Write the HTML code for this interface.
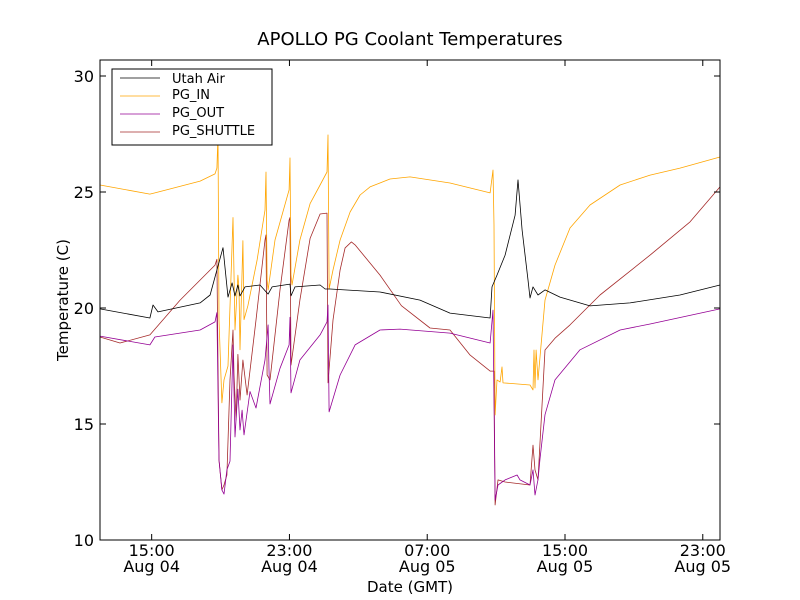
<!DOCTYPE html>
<html><head><meta charset="utf-8"><style>
body{margin:0;background:#fff;}
svg{display:block;font-family:"DejaVu Sans","Liberation Sans",sans-serif;}
</style></head><body>
<svg id="chart" width="800" height="600">
<rect width="800" height="600" fill="#fff"/>
<text x="410" y="45" text-anchor="middle" font-size="18">APOLLO PG Coolant Temperatures</text>
<g id="plot"></g>
<g id="axes"></g>
<text x="410" y="592" text-anchor="middle" font-size="15">Date (GMT)</text>
<text transform="translate(68,300) rotate(-90)" text-anchor="middle" font-size="15">Temperature (C)</text>
<g>
<rect x="112" y="69" width="160" height="76" fill="#fff" stroke="#000" stroke-width="1"/>
<line x1="120" y1="78" x2="160" y2="78" stroke="#000" stroke-width="0.8"/>
<text x="172" y="83" font-size="13">Utah Air</text>
<line x1="120" y1="96" x2="160" y2="96" stroke="#ffa500" stroke-width="0.8"/>
<text x="172" y="99" font-size="13">PG_IN</text>
<line x1="120" y1="114" x2="160" y2="114" stroke="#940094" stroke-width="0.8"/>
<text x="172" y="117" font-size="13">PG_OUT</text>
<line x1="120" y1="132" x2="160" y2="132" stroke="#a52a2a" stroke-width="0.8"/>
<text x="172" y="135" font-size="13">PG_SHUTTLE</text>
</g>
</svg>
<script>
// hours since 12:00 Aug 04
const utahT=[0,2.9,3.08,3.37,5.81,6.39,7.14,7.43,7.67,7.84,8.01,8.13,8.42,9.29,9.76,9.99,11.03,11.09,11.32,12.78,13.07,13.36,16.26,18.58,20.32,22.65,22.76,23.05,23.52,24.10,24.27,24.51,24.85,24.97,25.14,25.43,25.84,26.71,28.45,30.78,33.68,36];
const utahV=[19.96,19.57,20.13,19.83,20.22,20.56,22.6,20.47,21.08,20.52,20.99,20.52,20.91,20.99,20.6,20.91,21.03,20.52,20.91,20.99,20.82,20.82,20.69,20.34,19.78,19.57,20.91,21.42,22.28,24.0,25.52,23.36,21.21,20.43,20.91,20.56,20.78,20.47,20.09,20.22,20.56,20.99];
const inT=[0,2.9,3.19,5.81,6.68,6.79,6.85,6.91,7.08,7.20,7.43,7.72,7.84,8.01,8.07,8.13,8.30,8.36,8.59,9.12,9.58,9.64,9.70,9.76,10.16,10.98,11.03,11.09,11.15,11.61,12.2,12.78,13.18,13.24,13.30,13.53,13.94,14.52,15.10,15.68,16.84,18.0,20.32,22.65,22.82,22.88,22.94,23.05,23.23,23.34,23.40,23.81,24.97,25.14,25.20,25.26,25.32,25.43,25.84,26.42,27.29,28.45,30.20,31.94,33.68,36];
const inV=[25.30,24.91,24.96,25.47,25.78,26.03,27.46,19.5,15.91,16.9,17.5,23.9,19.05,21.42,20.8,18.2,22.9,19.5,20.1,22.07,24.22,25.86,21.21,20.78,22.93,25.09,26.47,21.42,20.99,22.93,24.5,25.30,25.86,27.46,20.82,21.64,22.93,24.14,24.87,25.22,25.56,25.65,25.39,24.96,25.95,23.58,15.39,16.9,16.81,17.46,16.77,16.75,16.68,16.47,18.19,16.55,18.19,16.9,20.34,21.85,23.45,24.44,25.30,25.73,26.03,26.51];
const outT=[0,2.9,3.19,5.81,6.68,6.79,6.91,7.08,7.20,7.37,7.55,7.72,7.84,8.01,8.13,8.25,8.36,8.71,9.06,9.58,9.76,9.81,9.87,10.45,10.98,11.03,11.09,11.61,12.78,13.18,13.24,13.30,13.94,14.81,16.26,17.42,20.32,22.65,22.82,22.94,23.11,23.52,24.22,24.39,24.97,25.14,25.26,25.43,25.55,25.84,26.42,27.87,30.2,31.94,36];
const outV=[18.79,18.41,18.75,19.05,19.40,19.8,13.45,12.16,11.98,13.02,13.4,18.41,14.44,16.5,14.74,15.6,14.53,16.4,15.69,17.76,19.27,17.33,15.86,17.4,18.41,19.6,16.34,17.76,18.84,19.40,20.13,15.52,17.11,18.41,19.05,19.09,18.92,18.49,19.91,11.72,12.37,12.59,12.80,12.59,12.37,13.02,11.94,12.6,13.5,15.4,16.9,18.2,19.05,19.31,19.96];
const shT=[0,1.16,2.90,4.65,6.68,6.79,6.91,7.08,7.20,7.37,7.55,7.72,7.78,7.90,8.01,8.13,8.30,8.54,9.06,9.58,9.64,9.70,9.87,10.45,10.98,11.03,11.09,11.61,12.2,12.78,13.18,13.24,13.53,13.94,14.23,14.6,14.81,16.26,17.5,19.16,20.32,21.49,22.65,22.88,22.94,23.11,23.52,24.97,25.14,25.26,25.43,25.84,26.42,27.29,29.03,31.94,34.26,36];
const shV=[18.75,18.49,18.84,20.34,21.85,22.1,13.45,12.16,12.37,12.80,16.90,19.05,17.11,15.17,18.0,16.03,17.76,16.25,19.48,22.93,23.15,17.11,16.90,20.78,23.79,23.9,17.54,20.34,23.0,24.05,24.09,16.77,19.48,21.64,22.59,22.85,22.72,21.42,20.1,19.14,19.05,17.97,17.28,17.28,11.51,12.59,12.50,12.37,14.09,13.02,12.59,18.19,18.7,19.27,20.56,22.28,23.71,25.22];
const yTicks=[10,15,20,25,30];
const xTicks=[3,11,19,27,35];
const xTickTime=["15:00","23:00","07:00","15:00","23:00"];
const xTickDate=["Aug 04","Aug 04","Aug 05","Aug 05","Aug 05"];

const L=100,R=720,T=60,B=540;
const X=h=>L+h*(R-L)/36;
const Y=v=>B-(v-10)*23.2;
const NS="http://www.w3.org/2000/svg";
const plot=document.getElementById('plot'), axes=document.getElementById('axes');
function mk(tag,attrs,parent){const e=document.createElementNS(NS,tag);for(const k in attrs)e.setAttribute(k,attrs[k]);parent.appendChild(e);return e;}
function line(ts,vs,color,name){
  const d=ts.map((t,i)=>(i?'L':'M')+X(t).toFixed(1)+','+Y(vs[i]).toFixed(1)).join('');
  const p=mk('path',{d:d,fill:'none',stroke:color,'stroke-width':'0.8','stroke-linejoin':'round'},plot);
  
  
}
line(shT,shV,'#a52a2a','series-pg-shuttle');
line(outT,outV,'#940094','series-pg-out');
line(inT,inV,'#ffa500','series-pg-in');
line(utahT,utahV,'#000000','series-utah-air');

const fr=mk('rect',{x:L,y:T,width:R-L,height:B-T,fill:'none',stroke:'#000','stroke-width':'1'},axes);


yTicks.forEach(v=>{
  const y=Y(v);
  mk('line',{x1:L,y1:y,x2:L+6,y2:y,stroke:'#000'},axes);
  mk('line',{x1:R,y1:y,x2:R-6,y2:y,stroke:'#000'},axes);
  const t=mk('text',{x:L-6,y:y+6,'text-anchor':'end','font-size':'16'},axes);
  t.textContent=v;
  
  
});
xTicks.forEach((h,i)=>{
  const x=X(h);
  mk('line',{x1:x,y1:B,x2:x,y2:B-6,stroke:'#000'},axes);
  mk('line',{x1:x,y1:T,x2:x,y2:T+6,stroke:'#000'},axes);
  const t=mk('text',{x:x,y:556,'text-anchor':'middle','font-size':'16'},axes);
  t.textContent=xTickTime[i];
  
  
  const t2=mk('text',{x:x,y:572,'text-anchor':'middle','font-size':'16'},axes);
  t2.textContent=xTickDate[i];
  
  
});
</script>
</body></html>
